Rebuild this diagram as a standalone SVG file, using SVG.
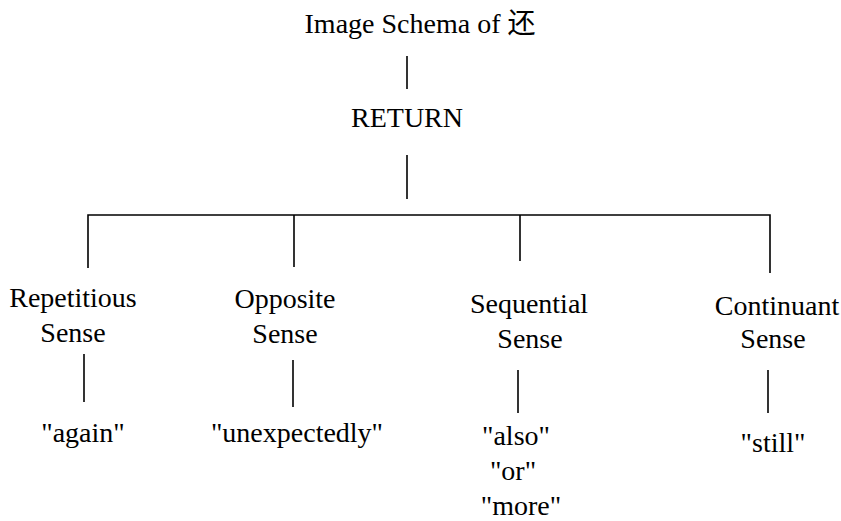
<svg xmlns="http://www.w3.org/2000/svg" width="841" height="521" viewBox="0 0 841 521">
  <style>
    text { font-family: "Liberation Serif", "Noto Sans CJK SC", serif; font-size: 28px; fill: #000; text-anchor: middle; }
    .link { stroke: #000; stroke-width: 1.6; fill: none; }
  </style>
  <rect width="841" height="521" fill="#fff"/>

  <g id="connectors">
    <line class="link" x1="407" y1="56" x2="407" y2="89"/>
    <line class="link" x1="407" y1="155" x2="407" y2="199"/>
    <polyline class="link" points="88,268 88,215 770,215 770,273"/>
    <line class="link" x1="294" y1="215" x2="294" y2="267"/>
    <line class="link" x1="520" y1="215" x2="520" y2="261"/>
    <line class="link" x1="84" y1="354" x2="84" y2="402"/>
    <line class="link" x1="293" y1="360" x2="293" y2="407"/>
    <line class="link" x1="518" y1="370" x2="518" y2="413"/>
    <line class="link" x1="768" y1="370" x2="768" y2="413"/>
  </g>

  <g id="title"><text x="420" y="33">Image Schema of 还</text></g>
  <g id="return"><text x="407" y="127">RETURN</text></g>

  <g id="repetitious">
    <text x="73" y="307">Repetitious</text>
    <text x="73" y="342">Sense</text>
  </g>
  <g id="opposite">
    <text x="285" y="308">Opposite</text>
    <text x="285" y="343">Sense</text>
  </g>
  <g id="sequential">
    <text x="529" y="313">Sequential</text>
    <text x="530" y="348">Sense</text>
  </g>
  <g id="continuant">
    <text x="777" y="315">Continuant</text>
    <text x="773" y="348">Sense</text>
  </g>

  <g id="again"><text x="83" y="442">"again"</text></g>
  <g id="unexpectedly"><text x="297" y="442">"unexpectedly"</text></g>
  <g id="sequential-words">
    <text x="516" y="445">"also"</text>
    <text x="513" y="480">"or"</text>
    <text x="521" y="515">"more"</text>
  </g>
  <g id="still"><text x="773" y="452">"still"</text></g>
</svg>
